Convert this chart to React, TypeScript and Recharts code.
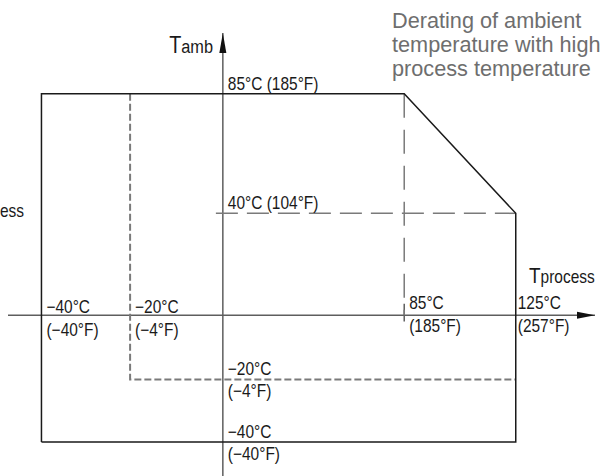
import React from 'react';
import {
  ComposedChart,
  Line,
  Scatter,
  XAxis,
  YAxis,
  ReferenceLine,
  ReferenceDot,
} from 'recharts';

// operating envelope, T process (x) vs T amb (y), °C
const envelope = [
  { x: -40, y: -40 },
  { x: -40, y: 85 },
  { x: 85, y: 85 },
  { x: 125, y: 40 },
  { x: 125, y: -40 },
  { x: -40, y: -40 },
];
// short-dashed limit (−20°C)
const lowLimit = [
  { x: -20, y: 85 },
  { x: -20, y: -20 },
  { x: 125, y: -20 },
];
// long-dashed derating guides
const deratingStart = [
  { x: 85, y: 85 },
  { x: 85, y: 0 },
];
const deratingEnd = [
  { x: -1.5, y: 40 },
  { x: 125, y: 40 },
];

const processTemps = [-40, -20, 85, 125];
const processC = ['−40°C', '−20°C', '85°C', '125°C'];
const processF = ['(−40°F)', '(−4°F)', '(185°F)', '(257°F)'];

const ambientTemps = [85, 40, -20, -40];
const ambientC = ['85°C', '40°C', '−20°C', '−40°C'];
const ambientF = ['(185°F)', '(104°F)', '(−4°F)', '(−40°F)'];

const title = ['Derating of ambient', 'temperature with high', 'process temperature'];

// the drawing is not to scale: piecewise linear axes
const xStops = [-50, -40, -20, 0, 85, 125, 150];
const xAt = [0, 0.057, 0.208, 0.366, 0.675, 0.865, 1];
const yStops = [-55, -40, -20, 0, 40, 85, 110];
const yAt = [0, 0.077, 0.218, 0.363, 0.593, 0.863, 1];

function schematicScale(stops: number[], at: number[], dom?: number[], rng?: number[]): any {
  let d = dom || [stops[0], stops[stops.length - 1]];
  let r = rng || [0, 1];
  const s: any = (v: number) => {
    let i = 0;
    while (i < stops.length - 2 && v > stops[i + 1]) i++;
    const f = at[i] + ((v - stops[i]) / (stops[i + 1] - stops[i])) * (at[i + 1] - at[i]);
    return r[0] + f * (r[1] - r[0]);
  };
  s.domain = (nd?: number[]) => {
    if (!nd) return d;
    d = nd;
    return s;
  };
  s.range = (nr?: number[]) => {
    if (!nr) return r;
    r = nr;
    return s;
  };
  s.copy = () => schematicScale(stops, at, d.slice(), r.slice());
  s.ticks = () => stops.slice(1, -1);
  s.tickFormat = () => (v: number) => String(v);
  s.invert = (px: number) => {
    const f = (px - r[0]) / (r[1] - r[0]);
    let i = 0;
    while (i < at.length - 2 && f > at[i + 1]) i++;
    return stops[i] + ((f - at[i]) / (at[i + 1] - at[i])) * (stops[i + 1] - stops[i]);
  };
  return s;
}

const xScale = schematicScale(xStops, xAt);
const yScale = schematicScale(yStops, yAt);

const font = '"Liberation Sans", Arial, sans-serif';
const ink = '#1a1a1a';
const axisGray = '#5e5e5e';
const dashGray = '#7a7a7a';

// condensed look: Arial metrics squeezed horizontally
const Narrow = ({ x, y, size = 18, anchor, children }: any) => (
  <text
    transform={`translate(${x},${y}) scale(0.86,1)`}
    fontFamily={font}
    fontSize={size}
    fill={ink}
    textAnchor={anchor}
  >
    {children}
  </text>
);

const processLabels = processTemps.map((t, i) => ({ x: t, y: 0, c: processC[i], f: processF[i] }));
const ambientLabels = ambientTemps.map((t, i) => ({ x: 0, y: t, c: ambientC[i], f: ambientF[i] }));

const ProcessLabel = (p: any) => {
  const raised = p.payload.x > 0;
  const dx = p.payload.x > 100 ? 2 : 5;
  return (
    <g>
      <Narrow x={p.cx + dx} y={p.cy - (raised ? 6 : 2)}>{p.payload.c}</Narrow>
      <Narrow x={p.cx + dx} y={p.cy + (raised ? 17 : 21)}>{p.payload.f}</Narrow>
    </g>
  );
};

const AmbientLabel = (p: any) => {
  if (p.payload.y > 0) {
    return (
      <Narrow x={p.cx + 5} y={p.cy - 4}>
        {p.payload.c} {p.payload.f}
      </Narrow>
    );
  }
  return (
    <g>
      <Narrow x={p.cx + 5} y={p.cy - 4}>{p.payload.c}</Narrow>
      <Narrow x={p.cx + 5} y={p.cy + 18}>{p.payload.f}</Narrow>
    </g>
  );
};

const ArrowRight = (p: any) => (
  <polygon points={`${p.cx},${p.cy} ${p.cx - 18},${p.cy - 3.5} ${p.cx - 18},${p.cy + 3.5}`} fill="#111" />
);
const ArrowUp = (p: any) => (
  <polygon points={`${p.cx},${p.cy} ${p.cx - 3.5},${p.cy + 20} ${p.cx + 3.5},${p.cy + 20}`} fill="#111" />
);

export default function App() {
  return (
    <div style={{ position: 'absolute', left: 0, top: 0 }}>
      <ComposedChart width={606} height={476} margin={{ top: 33, right: 11, bottom: 0, left: 8 }}>
        <XAxis
          type="number"
          dataKey="x"
          scale={xScale}
          domain={[xStops[0], xStops[xStops.length - 1]]}
          allowDataOverflow
          hide
        />
        <YAxis
          type="number"
          dataKey="y"
          scale={yScale}
          domain={[yStops[0], yStops[yStops.length - 1]]}
          allowDataOverflow
          hide
        />
        <ReferenceLine y={0} stroke={axisGray} strokeWidth={1.5} />
        <ReferenceLine x={0} stroke={axisGray} strokeWidth={1.5} />
        <ReferenceLine
          segment={[{ x: 85, y: -2 }, { x: 85, y: 4.5 }]}
          stroke={axisGray}
          strokeWidth={1.5}
        />
        <ReferenceDot x={xStops[xStops.length - 1]} y={0} shape={ArrowRight} ifOverflow="visible" />
        <ReferenceDot x={0} y={yStops[yStops.length - 1]} shape={ArrowUp} ifOverflow="visible" />

        <Line data={deratingStart} dataKey="y" stroke={dashGray} strokeWidth={1.5} strokeDasharray="24 12" dot={false} isAnimationActive={false} />
        <Line data={deratingEnd} dataKey="y" stroke={dashGray} strokeWidth={1.5} strokeDasharray="22 9" dot={false} isAnimationActive={false} />
        <Line data={lowLimit} dataKey="y" stroke={dashGray} strokeWidth={2} strokeDasharray="7 3" dot={false} isAnimationActive={false} />
        <Line data={envelope} dataKey="y" stroke={ink} strokeWidth={1.5} dot={false} isAnimationActive={false} />

        <Scatter data={processLabels} dataKey="y" shape={ProcessLabel} isAnimationActive={false} />
        <Scatter data={ambientLabels} dataKey="y" shape={AmbientLabel} isAnimationActive={false} />

        <Narrow x={213} y={53} anchor="end">
          <tspan fontSize={23}>T</tspan>
          <tspan fontSize={19}>amb</tspan>
        </Narrow>
        <Narrow x={529} y={283}>
          <tspan fontSize={22}>T</tspan>
          <tspan fontSize={18}>process</tspan>
        </Narrow>
        <Narrow x={0} y={217}>ess</Narrow>

        <g fill="#6e6e6e" fontFamily={font} fontSize={21.7}>
          {title.map((line, i) => (
            <text key={line} x={392} y={27.5 + i * 24}>{line}</text>
          ))}
        </g>
      </ComposedChart>
    </div>
  );
}
